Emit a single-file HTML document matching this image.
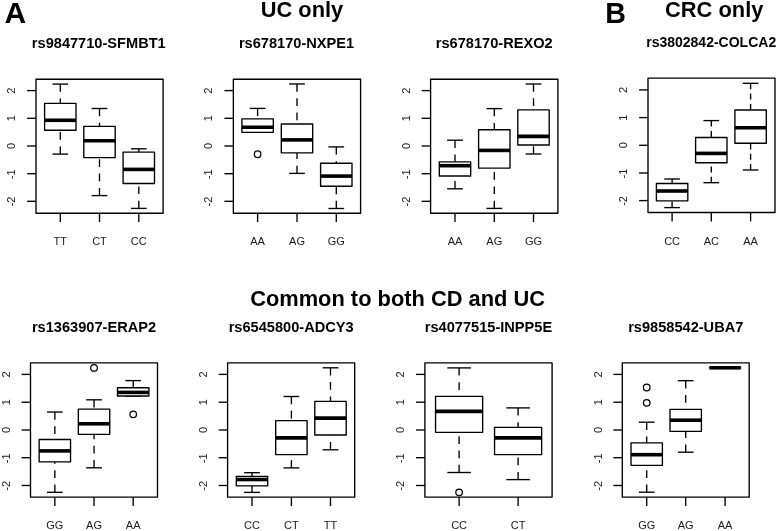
<!DOCTYPE html>
<html><head><meta charset="utf-8"><title>boxplots</title>
<style>
html,body{margin:0;padding:0;background:#fff;}
body{width:778px;height:531px;overflow:hidden;}
svg{display:block;will-change:transform;}
.ln{fill:none;stroke:#000;stroke-width:1.35;stroke-linejoin:round;stroke-linecap:butt;}
.bx{fill:#fff;}
.wh{fill:none;stroke:#000;stroke-width:1.35;stroke-dasharray:7.7 6.6;}
.md{stroke:#000;stroke-width:3.6;stroke-linecap:butt;}
.ol{fill:none;stroke:#000;stroke-width:1.25;}
text{font-family:"Liberation Sans",sans-serif;fill:#1a1a1a;}
.yt{font-size:11px;text-anchor:middle;}
.xt{font-size:11px;text-anchor:middle;}
.ti{font-size:14.4px;font-weight:bold;text-anchor:middle;fill:#000;}
.hd{font-size:21.85px;font-weight:bold;text-anchor:middle;fill:#000;}
.big{font-size:30px;font-weight:bold;fill:#000;}
</style></head>
<body><svg width="778" height="531" viewBox="0 0 778 531">
<rect width="778" height="531" fill="#fff"/>
<g transform="translate(0,0.3)">
<rect x="36" y="78.9" width="127.1" height="134" class="ln"/>
<line x1="27.1" y1="90.3" x2="36" y2="90.3" class="ln"/>
<text class="yt" transform="translate(14.9,90.3) rotate(-90)">2</text>
<line x1="27.1" y1="118" x2="36" y2="118" class="ln"/>
<text class="yt" transform="translate(14.9,118) rotate(-90)">1</text>
<line x1="27.1" y1="145.7" x2="36" y2="145.7" class="ln"/>
<text class="yt" transform="translate(14.9,145.7) rotate(-90)">0</text>
<line x1="27.1" y1="173.4" x2="36" y2="173.4" class="ln"/>
<text class="yt" transform="translate(14.9,174) rotate(-90)">-1</text>
<line x1="27.1" y1="201" x2="36" y2="201" class="ln"/>
<text class="yt" transform="translate(14.9,201.3) rotate(-90)">-2</text>
<line x1="60.3" y1="212.9" x2="60.3" y2="221.8" class="ln"/>
<text class="xt" x="60.3" y="244.7">TT</text>
<line x1="60.3" y1="83.8" x2="60.3" y2="103.1" class="wh"/>
<line x1="60.3" y1="153.8" x2="60.3" y2="129.9" class="wh"/>
<line x1="52.45" y1="83.8" x2="68.15" y2="83.8" class="ln"/>
<line x1="52.45" y1="153.8" x2="68.15" y2="153.8" class="ln"/>
<rect x="44.6" y="103.1" width="31.4" height="26.8" class="ln bx"/>
<line x1="44.6" y1="120" x2="76" y2="120" class="md"/>
<line x1="99.5" y1="212.9" x2="99.5" y2="221.8" class="ln"/>
<text class="xt" x="99.5" y="244.7">CT</text>
<line x1="99.5" y1="108.2" x2="99.5" y2="126" class="wh"/>
<line x1="99.5" y1="195.3" x2="99.5" y2="157.3" class="wh"/>
<line x1="91.65" y1="108.2" x2="107.35" y2="108.2" class="ln"/>
<line x1="91.65" y1="195.3" x2="107.35" y2="195.3" class="ln"/>
<rect x="83.8" y="126" width="31.4" height="31.3" class="ln bx"/>
<line x1="83.8" y1="140.5" x2="115.2" y2="140.5" class="md"/>
<line x1="138.8" y1="212.9" x2="138.8" y2="221.8" class="ln"/>
<text class="xt" x="138.8" y="244.7">CC</text>
<line x1="138.8" y1="148.5" x2="138.8" y2="151.8" class="wh"/>
<line x1="138.8" y1="208.1" x2="138.8" y2="183.2" class="wh"/>
<line x1="130.95" y1="148.5" x2="146.65" y2="148.5" class="ln"/>
<line x1="130.95" y1="208.1" x2="146.65" y2="208.1" class="ln"/>
<rect x="123.1" y="151.8" width="31.4" height="31.4" class="ln bx"/>
<line x1="123.1" y1="169.1" x2="154.5" y2="169.1" class="md"/>
</g>
<text class="ti" x="98.8" y="48" style="font-size:14.6px">rs9847710-SFMBT1</text>
<g transform="translate(0,0.3)">
<rect x="233.35" y="78.9" width="127.25" height="134" class="ln"/>
<line x1="224.45" y1="90.3" x2="233.35" y2="90.3" class="ln"/>
<text class="yt" transform="translate(212.25,90.3) rotate(-90)">2</text>
<line x1="224.45" y1="118" x2="233.35" y2="118" class="ln"/>
<text class="yt" transform="translate(212.25,118) rotate(-90)">1</text>
<line x1="224.45" y1="145.7" x2="233.35" y2="145.7" class="ln"/>
<text class="yt" transform="translate(212.25,145.7) rotate(-90)">0</text>
<line x1="224.45" y1="173.4" x2="233.35" y2="173.4" class="ln"/>
<text class="yt" transform="translate(212.25,174) rotate(-90)">-1</text>
<line x1="224.45" y1="201" x2="233.35" y2="201" class="ln"/>
<text class="yt" transform="translate(212.25,201.3) rotate(-90)">-2</text>
<line x1="257.6" y1="212.9" x2="257.6" y2="221.8" class="ln"/>
<text class="xt" x="257.6" y="244.7">AA</text>
<line x1="257.6" y1="108.1" x2="257.6" y2="118.6" class="wh"/>
<line x1="249.75" y1="108.1" x2="265.45" y2="108.1" class="ln"/>
<line x1="249.75" y1="132" x2="265.45" y2="132" class="ln"/>
<rect x="241.9" y="118.6" width="31.4" height="13.4" class="ln bx"/>
<line x1="241.9" y1="126.9" x2="273.3" y2="126.9" class="md"/>
<circle cx="257.6" cy="153.9" r="3.3" class="ol"/>
<line x1="297" y1="212.9" x2="297" y2="221.8" class="ln"/>
<text class="xt" x="297" y="244.7">AG</text>
<line x1="297" y1="83.65" x2="297" y2="123.7" class="wh"/>
<line x1="297" y1="173.1" x2="297" y2="152.5" class="wh"/>
<line x1="289.15" y1="83.65" x2="304.85" y2="83.65" class="ln"/>
<line x1="289.15" y1="173.1" x2="304.85" y2="173.1" class="ln"/>
<rect x="281.3" y="123.7" width="31.4" height="28.8" class="ln bx"/>
<line x1="281.3" y1="139.6" x2="312.7" y2="139.6" class="md"/>
<line x1="336.3" y1="212.9" x2="336.3" y2="221.8" class="ln"/>
<text class="xt" x="336.3" y="244.7">GG</text>
<line x1="336.3" y1="146.6" x2="336.3" y2="162.9" class="wh"/>
<line x1="336.3" y1="208.2" x2="336.3" y2="185.9" class="wh"/>
<line x1="328.45" y1="146.6" x2="344.15" y2="146.6" class="ln"/>
<line x1="328.45" y1="208.2" x2="344.15" y2="208.2" class="ln"/>
<rect x="320.6" y="162.9" width="31.4" height="23" class="ln bx"/>
<line x1="320.6" y1="175.8" x2="352" y2="175.8" class="md"/>
</g>
<text class="ti" x="296.5" y="48" style="font-size:14.6px">rs678170-NXPE1</text>
<g transform="translate(0,0.3)">
<rect x="430.6" y="78.9" width="127.3" height="134" class="ln"/>
<line x1="421.7" y1="90.3" x2="430.6" y2="90.3" class="ln"/>
<text class="yt" transform="translate(409.5,90.3) rotate(-90)">2</text>
<line x1="421.7" y1="118" x2="430.6" y2="118" class="ln"/>
<text class="yt" transform="translate(409.5,118) rotate(-90)">1</text>
<line x1="421.7" y1="145.7" x2="430.6" y2="145.7" class="ln"/>
<text class="yt" transform="translate(409.5,145.7) rotate(-90)">0</text>
<line x1="421.7" y1="173.4" x2="430.6" y2="173.4" class="ln"/>
<text class="yt" transform="translate(409.5,174) rotate(-90)">-1</text>
<line x1="421.7" y1="201" x2="430.6" y2="201" class="ln"/>
<text class="yt" transform="translate(409.5,201.3) rotate(-90)">-2</text>
<line x1="455" y1="212.9" x2="455" y2="221.8" class="ln"/>
<text class="xt" x="455" y="244.7">AA</text>
<line x1="455" y1="139.9" x2="455" y2="161.6" class="wh"/>
<line x1="455" y1="188.5" x2="455" y2="175.7" class="wh"/>
<line x1="447.15" y1="139.9" x2="462.85" y2="139.9" class="ln"/>
<line x1="447.15" y1="188.5" x2="462.85" y2="188.5" class="ln"/>
<rect x="439.3" y="161.6" width="31.4" height="14.1" class="ln bx"/>
<line x1="439.3" y1="165.4" x2="470.7" y2="165.4" class="md"/>
<line x1="494.3" y1="212.9" x2="494.3" y2="221.8" class="ln"/>
<text class="xt" x="494.3" y="244.7">AG</text>
<line x1="494.3" y1="108.3" x2="494.3" y2="129.4" class="wh"/>
<line x1="494.3" y1="208.1" x2="494.3" y2="167.8" class="wh"/>
<line x1="486.45" y1="108.3" x2="502.15" y2="108.3" class="ln"/>
<line x1="486.45" y1="208.1" x2="502.15" y2="208.1" class="ln"/>
<rect x="478.6" y="129.4" width="31.4" height="38.4" class="ln bx"/>
<line x1="478.6" y1="150.1" x2="510" y2="150.1" class="md"/>
<line x1="533.5" y1="212.9" x2="533.5" y2="221.8" class="ln"/>
<text class="xt" x="533.5" y="244.7">GG</text>
<line x1="533.5" y1="83.7" x2="533.5" y2="109.6" class="wh"/>
<line x1="533.5" y1="153.7" x2="533.5" y2="144.7" class="wh"/>
<line x1="525.65" y1="83.7" x2="541.35" y2="83.7" class="ln"/>
<line x1="525.65" y1="153.7" x2="541.35" y2="153.7" class="ln"/>
<rect x="517.8" y="109.6" width="31.4" height="35.1" class="ln bx"/>
<line x1="517.8" y1="136.1" x2="549.2" y2="136.1" class="md"/>
</g>
<text class="ti" x="494.25" y="48" style="font-size:14.6px">rs678170-REXO2</text>
<g transform="translate(0,0)">
<rect x="648" y="78.1" width="127" height="134.4" class="ln"/>
<line x1="639.1" y1="89.9" x2="648" y2="89.9" class="ln"/>
<text class="yt" transform="translate(626.9,89.9) rotate(-90)">2</text>
<line x1="639.1" y1="117.6" x2="648" y2="117.6" class="ln"/>
<text class="yt" transform="translate(626.9,117.6) rotate(-90)">1</text>
<line x1="639.1" y1="145.3" x2="648" y2="145.3" class="ln"/>
<text class="yt" transform="translate(626.9,145.3) rotate(-90)">0</text>
<line x1="639.1" y1="173" x2="648" y2="173" class="ln"/>
<text class="yt" transform="translate(626.9,173.6) rotate(-90)">-1</text>
<line x1="639.1" y1="200.6" x2="648" y2="200.6" class="ln"/>
<text class="yt" transform="translate(626.9,200.9) rotate(-90)">-2</text>
<line x1="672.1" y1="212.5" x2="672.1" y2="221.4" class="ln"/>
<text class="xt" x="672.1" y="244.5">CC</text>
<line x1="672.1" y1="179" x2="672.1" y2="183.5" class="wh" style="stroke-dasharray:6 4.3"/>
<line x1="672.1" y1="207.6" x2="672.1" y2="200.8" class="wh" style="stroke-dasharray:6 4.3"/>
<line x1="664.25" y1="179" x2="679.95" y2="179" class="ln"/>
<line x1="664.25" y1="207.6" x2="679.95" y2="207.6" class="ln"/>
<rect x="656.4" y="183.5" width="31.4" height="17.3" class="ln bx"/>
<line x1="656.4" y1="191" x2="687.8" y2="191" class="md"/>
<line x1="711.3" y1="212.5" x2="711.3" y2="221.4" class="ln"/>
<text class="xt" x="711.3" y="244.5">AC</text>
<line x1="711.3" y1="120.6" x2="711.3" y2="137.5" class="wh" style="stroke-dasharray:6 4.3"/>
<line x1="711.3" y1="182.7" x2="711.3" y2="162.7" class="wh" style="stroke-dasharray:6 4.3"/>
<line x1="703.45" y1="120.6" x2="719.15" y2="120.6" class="ln"/>
<line x1="703.45" y1="182.7" x2="719.15" y2="182.7" class="ln"/>
<rect x="695.6" y="137.5" width="31.4" height="25.2" class="ln bx"/>
<line x1="695.6" y1="153.4" x2="727" y2="153.4" class="md"/>
<line x1="750.6" y1="212.5" x2="750.6" y2="221.4" class="ln"/>
<text class="xt" x="750.6" y="244.5">AA</text>
<line x1="750.6" y1="83.3" x2="750.6" y2="110" class="wh" style="stroke-dasharray:6 4.3"/>
<line x1="750.6" y1="170" x2="750.6" y2="143.2" class="wh" style="stroke-dasharray:6 4.3"/>
<line x1="742.75" y1="83.3" x2="758.45" y2="83.3" class="ln"/>
<line x1="742.75" y1="170" x2="758.45" y2="170" class="ln"/>
<rect x="734.9" y="110" width="31.4" height="33.2" class="ln bx"/>
<line x1="734.9" y1="127.7" x2="766.3" y2="127.7" class="md"/>
</g>
<text class="ti" x="711.2" y="47.2" style="font-size:14.0px">rs3802842-COLCA2</text>
<g transform="translate(0,0)">
<rect x="30.5" y="362.8" width="127" height="134.4" class="ln"/>
<line x1="21.6" y1="374.4" x2="30.5" y2="374.4" class="ln"/>
<text class="yt" transform="translate(9.7,374.4) rotate(-90)">2</text>
<line x1="21.6" y1="402.2" x2="30.5" y2="402.2" class="ln"/>
<text class="yt" transform="translate(9.7,402.2) rotate(-90)">1</text>
<line x1="21.6" y1="430" x2="30.5" y2="430" class="ln"/>
<text class="yt" transform="translate(9.7,430) rotate(-90)">0</text>
<line x1="21.6" y1="457.7" x2="30.5" y2="457.7" class="ln"/>
<text class="yt" transform="translate(9.7,458.3) rotate(-90)">-1</text>
<line x1="21.6" y1="485.5" x2="30.5" y2="485.5" class="ln"/>
<text class="yt" transform="translate(9.7,485.8) rotate(-90)">-2</text>
<line x1="54.85" y1="497.2" x2="54.85" y2="506.1" class="ln"/>
<text class="xt" x="54.85" y="529.2">GG</text>
<line x1="54.85" y1="412.05" x2="54.85" y2="439.5" class="wh"/>
<line x1="54.85" y1="492.3" x2="54.85" y2="461.8" class="wh"/>
<line x1="47" y1="412.05" x2="62.7" y2="412.05" class="ln"/>
<line x1="47" y1="492.3" x2="62.7" y2="492.3" class="ln"/>
<rect x="39.15" y="439.5" width="31.4" height="22.3" class="ln bx"/>
<line x1="39.15" y1="450.9" x2="70.55" y2="450.9" class="md"/>
<line x1="94.05" y1="497.2" x2="94.05" y2="506.1" class="ln"/>
<text class="xt" x="94.05" y="529.2">AG</text>
<line x1="94.05" y1="399.8" x2="94.05" y2="409.1" class="wh"/>
<line x1="94.05" y1="467.8" x2="94.05" y2="434.35" class="wh"/>
<line x1="86.2" y1="399.8" x2="101.9" y2="399.8" class="ln"/>
<line x1="86.2" y1="467.8" x2="101.9" y2="467.8" class="ln"/>
<rect x="78.35" y="409.1" width="31.4" height="25.25" class="ln bx"/>
<line x1="78.35" y1="423.8" x2="109.75" y2="423.8" class="md"/>
<circle cx="94.05" cy="367.9" r="3.3" class="ol"/>
<line x1="133.2" y1="497.2" x2="133.2" y2="506.1" class="ln"/>
<text class="xt" x="133.2" y="529.2">AA</text>
<line x1="133.2" y1="380.6" x2="133.2" y2="387.7" class="wh"/>
<line x1="125.35" y1="380.6" x2="141.05" y2="380.6" class="ln"/>
<line x1="125.35" y1="396" x2="141.05" y2="396" class="ln"/>
<rect x="117.5" y="387.7" width="31.4" height="8.3" class="ln bx"/>
<line x1="117.5" y1="392.4" x2="148.9" y2="392.4" class="md"/>
<circle cx="133.2" cy="414.3" r="3.3" class="ol"/>
</g>
<text class="ti" x="94" y="332" style="font-size:14.6px">rs1363907-ERAP2</text>
<g transform="translate(0,0)">
<rect x="227.6" y="362.8" width="127.1" height="134.4" class="ln"/>
<line x1="218.7" y1="374.4" x2="227.6" y2="374.4" class="ln"/>
<text class="yt" transform="translate(206.8,374.4) rotate(-90)">2</text>
<line x1="218.7" y1="402.2" x2="227.6" y2="402.2" class="ln"/>
<text class="yt" transform="translate(206.8,402.2) rotate(-90)">1</text>
<line x1="218.7" y1="430" x2="227.6" y2="430" class="ln"/>
<text class="yt" transform="translate(206.8,430) rotate(-90)">0</text>
<line x1="218.7" y1="457.7" x2="227.6" y2="457.7" class="ln"/>
<text class="yt" transform="translate(206.8,458.3) rotate(-90)">-1</text>
<line x1="218.7" y1="485.5" x2="227.6" y2="485.5" class="ln"/>
<text class="yt" transform="translate(206.8,485.8) rotate(-90)">-2</text>
<line x1="252" y1="497.2" x2="252" y2="506.1" class="ln"/>
<text class="xt" x="252" y="529.2">CC</text>
<line x1="252" y1="472.7" x2="252" y2="476.3" class="wh"/>
<line x1="252" y1="492.4" x2="252" y2="485.8" class="wh"/>
<line x1="244.15" y1="472.7" x2="259.85" y2="472.7" class="ln"/>
<line x1="244.15" y1="492.4" x2="259.85" y2="492.4" class="ln"/>
<rect x="236.3" y="476.3" width="31.4" height="9.5" class="ln bx"/>
<line x1="236.3" y1="479.5" x2="267.7" y2="479.5" class="md"/>
<line x1="291.4" y1="497.2" x2="291.4" y2="506.1" class="ln"/>
<text class="xt" x="291.4" y="529.2">CT</text>
<line x1="291.4" y1="396.5" x2="291.4" y2="420.6" class="wh"/>
<line x1="291.4" y1="467.9" x2="291.4" y2="454.6" class="wh"/>
<line x1="283.55" y1="396.5" x2="299.25" y2="396.5" class="ln"/>
<line x1="283.55" y1="467.9" x2="299.25" y2="467.9" class="ln"/>
<rect x="275.7" y="420.6" width="31.4" height="34" class="ln bx"/>
<line x1="275.7" y1="437.9" x2="307.1" y2="437.9" class="md"/>
<line x1="330.5" y1="497.2" x2="330.5" y2="506.1" class="ln"/>
<text class="xt" x="330.5" y="529.2">TT</text>
<line x1="330.5" y1="367.8" x2="330.5" y2="401.4" class="wh"/>
<line x1="330.5" y1="449.8" x2="330.5" y2="435" class="wh"/>
<line x1="322.65" y1="367.8" x2="338.35" y2="367.8" class="ln"/>
<line x1="322.65" y1="449.8" x2="338.35" y2="449.8" class="ln"/>
<rect x="314.8" y="401.4" width="31.4" height="33.6" class="ln bx"/>
<line x1="314.8" y1="418.1" x2="346.2" y2="418.1" class="md"/>
</g>
<text class="ti" x="291.15" y="332" style="font-size:14.6px">rs6545800-ADCY3</text>
<g transform="translate(0,0)">
<rect x="424.9" y="362.8" width="127.2" height="134.4" class="ln"/>
<line x1="416" y1="374.4" x2="424.9" y2="374.4" class="ln"/>
<text class="yt" transform="translate(404.1,374.4) rotate(-90)">2</text>
<line x1="416" y1="402.2" x2="424.9" y2="402.2" class="ln"/>
<text class="yt" transform="translate(404.1,402.2) rotate(-90)">1</text>
<line x1="416" y1="430" x2="424.9" y2="430" class="ln"/>
<text class="yt" transform="translate(404.1,430) rotate(-90)">0</text>
<line x1="416" y1="457.7" x2="424.9" y2="457.7" class="ln"/>
<text class="yt" transform="translate(404.1,458.3) rotate(-90)">-1</text>
<line x1="416" y1="485.5" x2="424.9" y2="485.5" class="ln"/>
<text class="yt" transform="translate(404.1,485.8) rotate(-90)">-2</text>
<line x1="459.1" y1="497.2" x2="459.1" y2="506.1" class="ln"/>
<text class="xt" x="459.1" y="529.2">CC</text>
<line x1="459.1" y1="367.9" x2="459.1" y2="396.4" class="wh"/>
<line x1="459.1" y1="472.5" x2="459.1" y2="432.4" class="wh"/>
<line x1="447.33" y1="367.9" x2="470.88" y2="367.9" class="ln"/>
<line x1="447.33" y1="472.5" x2="470.88" y2="472.5" class="ln"/>
<rect x="435.55" y="396.4" width="47.1" height="36" class="ln bx"/>
<line x1="435.55" y1="411.4" x2="482.65" y2="411.4" class="md"/>
<circle cx="459.1" cy="492.3" r="3.3" class="ol"/>
<line x1="518.1" y1="497.2" x2="518.1" y2="506.1" class="ln"/>
<text class="xt" x="518.1" y="529.2">CT</text>
<line x1="518.1" y1="407.9" x2="518.1" y2="427.3" class="wh"/>
<line x1="518.1" y1="479.6" x2="518.1" y2="454.6" class="wh"/>
<line x1="506.33" y1="407.9" x2="529.88" y2="407.9" class="ln"/>
<line x1="506.33" y1="479.6" x2="529.88" y2="479.6" class="ln"/>
<rect x="494.55" y="427.3" width="47.1" height="27.3" class="ln bx"/>
<line x1="494.55" y1="437.9" x2="541.65" y2="437.9" class="md"/>
</g>
<text class="ti" x="488.5" y="332" style="font-size:14.6px">rs4077515-INPP5E</text>
<g transform="translate(0,0)">
<rect x="622.3" y="362.8" width="126.9" height="134.4" class="ln"/>
<line x1="613.4" y1="374.4" x2="622.3" y2="374.4" class="ln"/>
<text class="yt" transform="translate(601.5,374.4) rotate(-90)">2</text>
<line x1="613.4" y1="402.2" x2="622.3" y2="402.2" class="ln"/>
<text class="yt" transform="translate(601.5,402.2) rotate(-90)">1</text>
<line x1="613.4" y1="430" x2="622.3" y2="430" class="ln"/>
<text class="yt" transform="translate(601.5,430) rotate(-90)">0</text>
<line x1="613.4" y1="457.7" x2="622.3" y2="457.7" class="ln"/>
<text class="yt" transform="translate(601.5,458.3) rotate(-90)">-1</text>
<line x1="613.4" y1="485.5" x2="622.3" y2="485.5" class="ln"/>
<text class="yt" transform="translate(601.5,485.8) rotate(-90)">-2</text>
<line x1="646.7" y1="497.2" x2="646.7" y2="506.1" class="ln"/>
<text class="xt" x="646.7" y="529.2">GG</text>
<line x1="646.7" y1="422.2" x2="646.7" y2="442.8" class="wh"/>
<line x1="646.7" y1="492.2" x2="646.7" y2="465.3" class="wh"/>
<line x1="638.85" y1="422.2" x2="654.55" y2="422.2" class="ln"/>
<line x1="638.85" y1="492.2" x2="654.55" y2="492.2" class="ln"/>
<rect x="631" y="442.8" width="31.4" height="22.5" class="ln bx"/>
<line x1="631" y1="454.7" x2="662.4" y2="454.7" class="md"/>
<circle cx="646.7" cy="387.5" r="3.3" class="ol"/>
<circle cx="646.7" cy="402.8" r="3.3" class="ol"/>
<line x1="685.7" y1="497.2" x2="685.7" y2="506.1" class="ln"/>
<text class="xt" x="685.7" y="529.2">AG</text>
<line x1="685.7" y1="380.7" x2="685.7" y2="409.3" class="wh"/>
<line x1="685.7" y1="452.2" x2="685.7" y2="431.4" class="wh"/>
<line x1="677.85" y1="380.7" x2="693.55" y2="380.7" class="ln"/>
<line x1="677.85" y1="452.2" x2="693.55" y2="452.2" class="ln"/>
<rect x="670" y="409.3" width="31.4" height="22.1" class="ln bx"/>
<line x1="670" y1="420.2" x2="701.4" y2="420.2" class="md"/>
<line x1="725.1" y1="497.2" x2="725.1" y2="506.1" class="ln"/>
<text class="xt" x="725.1" y="529.2">AA</text>
<line x1="717.25" y1="367.8" x2="732.95" y2="367.8" class="ln"/>
<line x1="717.25" y1="367.8" x2="732.95" y2="367.8" class="ln"/>
<rect x="709.4" y="367.8" width="31.4" height="0.01" class="ln bx"/>
<line x1="709.4" y1="367.8" x2="740.8" y2="367.8" class="md"/>
</g>
<text class="ti" x="685.75" y="332" style="font-size:14.6px">rs9858542-UBA7</text>
<text class="big" x="4.6" y="22.9">A</text>
<text class="hd" x="302" y="17">UC only</text>
<text class="big" transform="translate(605.2,22.9) scale(0.955,1)">B</text>
<text class="hd" x="714.2" y="17">CRC only</text>
<text class="hd" x="397.6" y="306.2">Common to both CD and UC</text>
</svg></body></html>
